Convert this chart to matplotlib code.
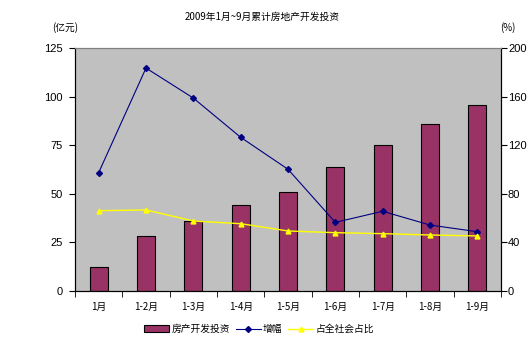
import numpy as np
import matplotlib.pyplot as plt

plt.rcParams['font.family'] = ['Noto Sans CJK SC', 'DejaVu Sans']

# cumulative monthly figures, Jan - Sep 2009
months = ['1月', '1-2月', '1-3月', '1-4月', '1-5月', '1-6月', '1-7月', '1-8月', '1-9月']
invest = [12.2, 28.1, 36.0, 44.2, 50.8, 63.6, 74.9, 85.7, 95.5]      # 亿元
growth = [97.4, 183.5, 158.8, 126.5, 100.2, 56.5, 65.6, 54.3, 48.8]  # %
share = [66.1, 66.7, 57.6, 55.4, 49.4, 48.0, 47.2, 46.1, 45.3]       # %

num_font = ['Liberation Sans Narrow', 'Liberation Sans', 'DejaVu Sans']

fig = plt.figure(figsize=(5.28, 3.42), dpi=100)
ax = fig.add_axes([75 / 528, 51 / 342, 426 / 528, 243 / 342])
ax.set_facecolor('#C0C0C0')
x = np.arange(len(months))

bars = ax.bar(x, invest, width=0.38, color='#993366', edgecolor='black',
              linewidth=0.8, label='房产开发投资', zorder=2)
ax.set_xlim(-0.5, len(months) - 0.5)
ax.set_ylim(0, 125)
ax.set_yticks(np.arange(0, 126, 25))
ax.set_xticks(x)
ax.set_xticklabels(months)
ax.set_xticks(np.arange(-0.5, len(months), 1), minor=True)
ax.tick_params(axis='x', which='major', length=0, pad=8, labelsize=7)
ax.tick_params(axis='x', which='minor', length=4, direction='out')
ax.tick_params(axis='y', length=4, direction='out', labelsize=8, pad=5)
for lbl in ax.get_yticklabels():
    lbl.set_family(num_font)

ax2 = ax.twinx()
ln1, = ax2.plot(x, growth, color='#000080', lw=0.8, marker='D', ms=3,
                label='增幅', zorder=3)
ln2, = ax2.plot(x, share, color='#FFFF00', lw=1.0, marker='^', ms=3.5,
                label='占全社会占比', zorder=3)
ax2.set_ylim(0, 200)
ax2.set_yticks(np.arange(0, 201, 40))
ax2.tick_params(axis='y', length=4, direction='out', labelsize=8, pad=1)
for lbl in ax2.get_yticklabels():
    lbl.set_family(num_font)

for a in (ax, ax2):
    a.spines['top'].set_color('#808080')
    a.spines['left'].set_linewidth(0.8)
    a.spines['right'].set_linewidth(0.8)
    a.spines['bottom'].set_linewidth(0.8)

fig.text(262 / 528, 1 - 17 / 342, '2009年1月~9月累计房地产开发投资',
         ha='center', va='center', fontsize=7)
fig.text(65 / 528, 1 - 28 / 342, '(亿元)', ha='center', va='center', fontsize=7)
fig.text(508 / 528, 1 - 28 / 342, '(%)', ha='center', va='center', fontsize=7)

fig.legend(handles=[bars, ln1, ln2], loc='center',
           bbox_to_anchor=(259 / 528, 1 - 329 / 342), ncol=3, frameon=False,
           fontsize=7, handlelength=2.6, handletextpad=0.2, columnspacing=0.6)

fig.savefig('out.png', dpi=100)
